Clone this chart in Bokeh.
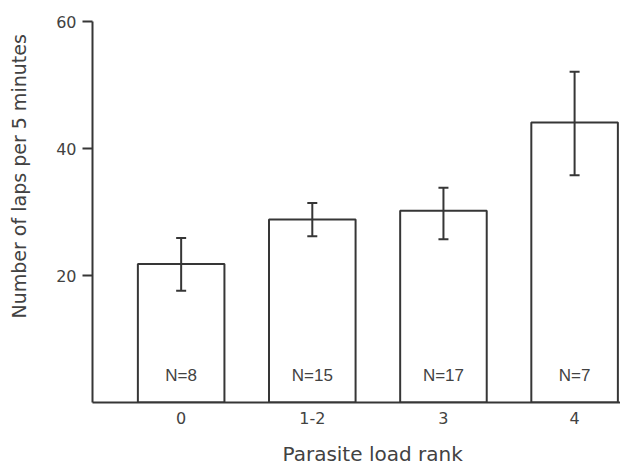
from bokeh.plotting import figure
from bokeh.models import (ColumnDataSource, Range1d, FixedTicker, Whisker, TeeHead,
                          Title, LinearAxis)
from bokeh.embed import file_html
from bokeh.resources import INLINE
from bokeh.core.properties import value

# ---- data ----
categories = ["0", "1-2", "3", "4"]
means = [21.8, 28.8, 30.2, 44.1]
lower = [17.6, 26.2, 25.7, 35.8]
upper = [25.9, 31.4, 33.8, 52.1]
n_labels = ["N=8", "N=15", "N=17", "N=7"]
y_ticks = [20, 40, 60]

ink = "#363636"
txt = "#424242"
font = "DejaVu Sans"

xpos = list(range(len(categories)))
src = ColumnDataSource(dict(x=xpos, top=means, lower=lower, upper=upper,
                            n=n_labels, zero=[0] * len(xpos)))

p = figure(width=620, height=467, output_backend="svg", toolbar_location=None,
           x_range=Range1d(-0.676, 3.35), y_range=Range1d(0, 60),
           min_border_left=92, min_border_right=0, min_border_top=21,
           min_border_bottom=65)
p.outline_line_color = None
p.xgrid.visible = False
p.ygrid.visible = False
p.background_fill_color = "white"

p.vbar(x="x", top="top", bottom=0, width=0.66, fill_color="white",
       line_color=ink, line_width=2, source=src)

w = Whisker(source=src, base="x", upper="upper", lower="lower", dimension="height",
            line_color=ink, line_width=2, level="overlay",
            upper_head=TeeHead(size=10, line_color=ink, line_width=2),
            lower_head=TeeHead(size=10, line_color=ink, line_width=2))
p.add_layout(w)

p.text(x="x", y="zero", text="n", y_offset=-27, text_align="center",
       text_baseline="alphabetic", text_font=value("Liberation Sans"),
       text_font_size="17px", text_color=txt, source=src)

# axes
p.xaxis.ticker = FixedTicker(ticks=xpos)
p.xaxis.major_label_overrides = {i: c for i, c in enumerate(categories)}
p.xaxis.major_tick_out = 0
p.xaxis.major_tick_in = 0
p.xaxis.minor_tick_line_color = None
p.xaxis.major_label_standoff = 9

p.yaxis.ticker = FixedTicker(ticks=y_ticks)
p.yaxis.major_tick_out = 10
p.yaxis.major_tick_in = 0
p.yaxis.minor_tick_line_color = None
p.yaxis.major_label_standoff = 6

for ax in (p.xaxis, p.yaxis):
    ax.axis_line_color = ink
    ax.axis_line_width = 2
    ax.major_tick_line_color = ink
    ax.major_tick_line_width = 2
    ax.major_label_text_font = font
    ax.major_label_text_font_size = "16px"
    ax.major_label_text_color = txt


def spacer(size, tick):
    # an invisible axis (white tick, empty label) that only takes up room
    return LinearAxis(ticker=FixedTicker(ticks=[tick]), axis_line_color=None,
                      major_tick_out=size, major_tick_in=0,
                      major_tick_line_color="white", major_tick_line_width=1,
                      minor_tick_out=0, minor_tick_line_color=None,
                      major_label_standoff=0, major_label_overrides={tick: ""},
                      major_label_text_font_size="1px")


# spacer axes push the titles outward
p.add_layout(spacer(24, 0), "left")
p.add_layout(spacer(13, -0.676), "below")

p.add_layout(Title(text="Number of laps per 5 minutes", align="left", offset=84,
                   standoff=0, text_font=font, text_font_size="19px",
                   text_font_style="normal", text_color=txt), "left")
p.add_layout(Title(text="Parasite load rank", align="left", offset=190,
                   vertical_align="bottom", standoff=0, text_font=font,
                   text_font_size="20px", text_font_style="normal",
                   text_color=txt), "below")

open("out.html", "w").write(file_html(p, INLINE))
